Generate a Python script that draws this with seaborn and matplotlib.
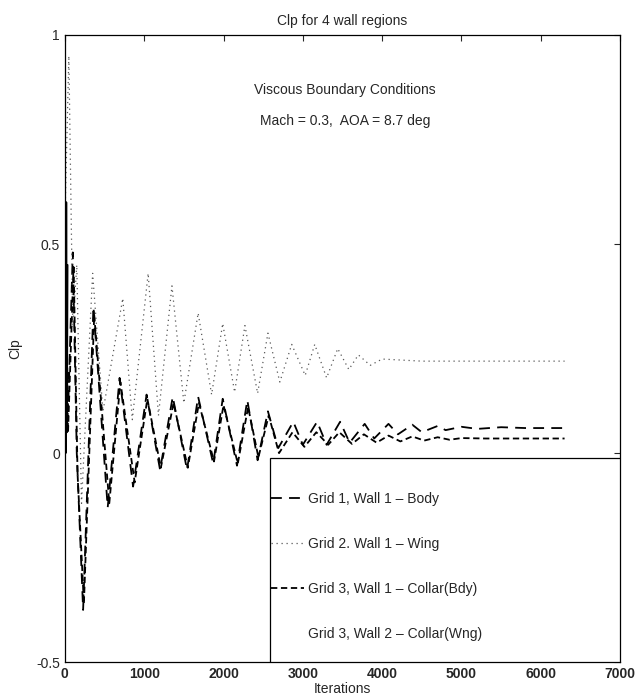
import matplotlib
matplotlib.use("Agg")
import matplotlib.pyplot as plt
from matplotlib.patches import Rectangle
import seaborn as sns
import pandas as pd

# ---- data ----
body_iter = [0, 40, 100, 150, 230, 360, 540, 690, 860, 1030, 1200, 1360, 1540, 1680,
             1870, 1990, 2170, 2300, 2430, 2560, 2690, 2880, 3000, 3180, 3300, 3470,
             3590, 3780, 3900, 4080, 4200, 4380, 4500, 4700, 4800, 5000, 5200, 5500,
             5800, 6300]
body_clp = [0.55, 0.10, 0.48, 0.0, -0.375, 0.35, -0.13, 0.18, -0.08, 0.14, -0.04, 0.135,
            -0.04, 0.135, -0.025, 0.13, -0.03, 0.127, -0.017, 0.10, 0.012, 0.075, 0.02,
            0.075, 0.02, 0.075, 0.025, 0.07, 0.035, 0.07, 0.045, 0.068, 0.05, 0.065,
            0.055, 0.063, 0.058, 0.062, 0.06, 0.06]

wing_iter = [0, 50, 100, 150, 210, 350, 480, 730, 850, 1050, 1180, 1350, 1500, 1680,
             1850, 1990, 2140, 2270, 2430, 2560, 2710, 2860, 3030, 3150, 3300, 3440,
             3580, 3700, 3850, 4000, 4500, 5000, 5500, 6300]
wing_clp = [0.55, 0.95, 0.30, 0.45, -0.12, 0.43, 0.10, 0.37, 0.08, 0.43, 0.09, 0.40,
            0.12, 0.335, 0.14, 0.31, 0.146, 0.305, 0.143, 0.287, 0.17, 0.26, 0.186,
            0.26, 0.18, 0.25, 0.20, 0.235, 0.21, 0.225, 0.22, 0.22, 0.22, 0.22]

cbdy_iter = [0, 40, 110, 160, 240, 370, 560, 700, 880, 1040, 1210, 1370, 1550, 1690,
             1880, 2000, 2180, 2310, 2440, 2570, 2700, 2870, 3020, 3170, 3320, 3460,
             3620, 3770, 3930, 4080, 4230, 4380, 4530, 4700, 4850, 5000, 5300, 5600,
             6000, 6300]
cbdy_clp = [0.50, 0.05, 0.45, -0.05, -0.36, 0.33, -0.12, 0.17, -0.07, 0.13, -0.035,
            0.12, -0.035, 0.12, -0.02, 0.115, -0.025, 0.11, -0.01, 0.09, 0.0, 0.05,
            0.015, 0.05, 0.02, 0.05, 0.022, 0.045, 0.025, 0.042, 0.028, 0.04, 0.03,
            0.038, 0.032, 0.036, 0.035, 0.035, 0.035, 0.035]

cwng_iter = [0, 8, 16, 24, 32]
cwng_clp = [0.69, 0.0, 0.60, 0.05, 0.45]

labels = ["Grid 1, Wall 1 – Body", "Grid 2. Wall 1 – Wing",
          "Grid 3, Wall 1 – Collar(Bdy)", "Grid 3, Wall 2 – Collar(Wng)"]
x_ticks = [0, 1000, 2000, 3000, 4000, 5000, 6000, 7000]
y_ticks = [-0.5, 0, 0.5, 1]
y_ticklabels = ["-0.5", "0", "0.5", "1"]

# ---- plotting ----
sns.set_style("white")
plt.rcParams["font.family"] = ["Liberation Sans", "DejaVu Sans"]

fig = plt.figure(figsize=(6.36, 7.0), dpi=100)
ax = fig.add_axes([0.102, 0.054, 0.873, 0.896])

series = [
    (body_iter, body_clp, labels[0], dict(color="black", lw=1.3, dashes=(6, 4))),
    (wing_iter, wing_clp, labels[1], dict(color="0.35", lw=0.9, dashes=(1, 3))),
    (cbdy_iter, cbdy_clp, labels[2], dict(color="black", lw=1.3, dashes=(3.5, 2))),
    (cwng_iter, cwng_clp, labels[3], dict(color="black", lw=1.5)),
]
for xs, ys, lab, st in series:
    df = pd.DataFrame({"Iterations": xs, "Clp": ys})
    sns.lineplot(data=df, x="Iterations", y="Clp", ax=ax, label=lab,
                 estimator=None, sort=False, **st)

ax.set_xlim(0, 7000)
ax.set_ylim(-0.5, 1)
ax.set_xticks(x_ticks)
ax.set_xticklabels([str(t) for t in x_ticks], fontweight="bold", fontsize=10)
ax.set_yticks(y_ticks)
ax.set_yticklabels(y_ticklabels, fontsize=10)
ax.tick_params(direction="in", top=True, right=True, length=4, width=0.8)
for s in ax.spines.values():
    s.set_linewidth(0.9)
    s.set_color("black")

ax.set_xlabel("Iterations", fontsize=10, labelpad=1)
ax.set_ylabel("Clp", fontsize=10, labelpad=10)
ax.set_title("Clp for 4 wall regions", fontsize=10, pad=7)

ax.text(3530, 0.868, "Viscous Boundary Conditions", ha="center", va="center", fontsize=10)
ax.text(3530, 0.794, "Mach = 0.3,  AOA = 8.7 deg", ha="center", va="center", fontsize=10)

# legend box (frame drawn separately so the handles sit at its left edge)
box = (0.369, 0.0, 0.631, 0.325)
ax.add_patch(Rectangle(box[:2], box[2], box[3], transform=ax.transAxes,
                       facecolor="white", edgecolor="black", lw=0.9, zorder=4))
leg = ax.legend(loc="center left", bbox_to_anchor=(0.369, -0.01, 0.631, 0.325),
                borderaxespad=0, fontsize=10, frameon=False, labelspacing=2.25,
                handlelength=2.4, handletextpad=0.25, borderpad=0.1)
leg.set_zorder(5)
leg.get_lines()[3].set_alpha(0)

fig.savefig("out.png", dpi=100)
